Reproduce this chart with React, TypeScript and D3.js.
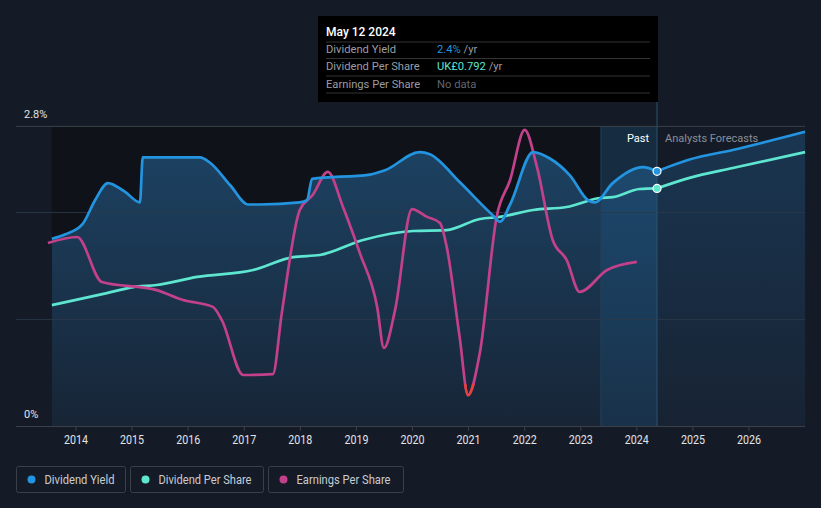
import React from "react";
import * as d3 from "d3";

// ---- data ----
const yieldDates = [2013.57, 2013.8, 2014.12, 2014.34, 2014.57, 2014.87, 2015.14, 2015.19, 2016.21, 2016.39, 2016.75, 2017.07, 2017.28, 2017.99, 2018.12, 2018.21, 2019.24, 2019.51, 2020.13, 2020.31, 2020.84, 2021.43, 2021.56, 2021.74, 2022.15, 2022.45, 2022.81, 2023.13, 2023.25, 2023.57, 2024.11, 2024.36];
const yieldValues = [1.75, 1.79, 1.89, 2.11, 2.27, 2.19, 2.09, 2.51, 2.51, 2.46, 2.25, 2.07, 2.07, 2.09, 2.11, 2.31, 2.35, 2.39, 2.56, 2.54, 2.28, 1.97, 1.91, 2.07, 2.56, 2.5, 2.34, 2.11, 2.09, 2.27, 2.42, 2.38];
const yieldForecastDates = [2024.36, 2024.94, 2025.71, 2027.0];
const yieldForecastValues = [2.38, 2.49, 2.58, 2.75];

const dpsDates = [2013.57, 2014.55, 2015.02, 2015.44, 2016.16, 2017.16, 2017.87, 2018.35, 2019.12, 2020.01, 2020.61, 2021.2, 2021.56, 2022.15, 2022.75, 2023.34, 2023.57, 2024.05, 2024.36];
const dpsValues = [0.403, 0.443, 0.463, 0.47, 0.497, 0.52, 0.563, 0.57, 0.62, 0.65, 0.653, 0.69, 0.697, 0.72, 0.73, 0.76, 0.763, 0.79, 0.792];
const dpsForecastDates = [2024.36, 2024.94, 2025.71, 2027.0];
const dpsForecastValues = [0.792, 0.827, 0.86, 0.913];

const epsDates = [2013.5, 2014.02, 2014.46, 2015.44, 2015.91, 2016.44, 2016.6, 2016.98, 2017.51, 2017.67, 2017.99, 2018.22, 2018.49, 2018.76, 2019.06, 2019.37, 2019.49, 2019.69, 2019.99, 2020.26, 2020.49, 2020.61, 2020.84, 2020.99, 2021.2, 2021.5, 2021.74, 2022.0, 2022.22, 2022.5, 2022.75, 2022.98, 2023.47, 2024.0];
const epsValues = [0.47, 0.49, 0.34, 0.313, 0.28, 0.257, 0.213, 0.03, 0.033, 0.237, 0.58, 0.63, 0.707, 0.59, 0.437, 0.257, 0.12, 0.247, 0.583, 0.557, 0.537, 0.457, 0.157, -0.037, 0.103, 0.557, 0.68, 0.847, 0.723, 0.48, 0.413, 0.307, 0.38, 0.407];

const yearTicks = [2014, 2015, 2016, 2017, 2018, 2019, 2020, 2021, 2022, 2023, 2024, 2025, 2026];
const yieldGrid = [1, 2];
const legendItems = ["Dividend Yield", "Dividend Per Share", "Earnings Per Share"];

const COL_YIELD = "#2394df";
const COL_DPS = "#5ee6d0";
const COL_EPS = "#c2418a";
const COL_NEG = "#e8403a";

const W = 821;
const H = 508;

export default function App() {
  const x = d3.scaleLinear().domain([2014, 2026]).range([76, 749]);
  const yY = d3.scaleLinear().domain([0, 2.8]).range([426, 126.4]);
  const yD = d3.scaleLinear().domain([0, 1.0]).range([426, 126]);
  const yE = d3.scaleLinear().domain([-0.14, 0.86]).range([426, 126]);

  const xStart = x(yieldDates[0]);
  const xEnd = x(2027.0);
  const xNow = x(2024.36);
  const xBand = x(2023.36);

  type P = [number, number];
  const yPts: P[] = yieldDates.map((d, i) => [d, yieldValues[i]]);
  const yfPts: P[] = yieldForecastDates.map((d, i) => [d, yieldForecastValues[i]]);
  const dPts: P[] = dpsDates.map((d, i) => [d, dpsValues[i]]);
  const dfPts: P[] = dpsForecastDates.map((d, i) => [d, dpsForecastValues[i]]);
  const ePts: P[] = epsDates.map((d, i) => [d, epsValues[i]]);

  const lineY = d3.line<P>().x((p) => x(p[0])).y((p) => yY(p[1])).curve(d3.curveMonotoneX);
  const lineD = d3.line<P>().x((p) => x(p[0])).y((p) => yD(p[1])).curve(d3.curveMonotoneX);
  const lineE = d3.line<P>().x((p) => x(p[0])).y((p) => yE(p[1])).curve(d3.curveMonotoneX);
  const areaY = d3.area<P>().x((p) => x(p[0])).y0(yY(0)).y1((p) => yY(p[1])).curve(d3.curveMonotoneX);

  const allYield = [...yPts, ...yfPts.slice(1)];

  const font = "Roboto, 'Noto Sans', sans-serif";

  const legendBoxes = [
    { x: 16.5, w: 109, col: COL_YIELD, len: 70 },
    { x: 130.5, w: 133, col: COL_DPS, len: 93 },
    { x: 268.5, w: 135, col: COL_EPS, len: 94 },
  ];

  return (
    <div style={{ position: "absolute", left: 0, top: 0, width: W, height: H }}>
      <svg width={W} height={H} style={{ display: "block" }} fontFamily={font}>
        <defs>
          <linearGradient id="areaGrad" gradientUnits="userSpaceOnUse" x1={0} y1={126} x2={0} y2={426}>
            <stop offset="0%" stopColor="#1d4466" />
            <stop offset="100%" stopColor="#172536" />
          </linearGradient>
          <linearGradient id="fcGrad" gradientUnits="userSpaceOnUse" x1={0} y1={126} x2={0} y2={426}>
            <stop offset="0%" stopColor="#1a3652" />
            <stop offset="100%" stopColor="#172333" />
          </linearGradient>
          <clipPath id="pastClip">
            <rect x={0} y={0} width={xNow} height={H} />
          </clipPath>
          <clipPath id="fcClip">
            <rect x={xNow} y={0} width={W - xNow} height={H} />
          </clipPath>
          <clipPath id="negClip">
            <rect x={0} y={yE(0)} width={W} height={H - yE(0)} />
          </clipPath>
        </defs>

        <rect x={0} y={0} width={W} height={H} fill="#151b26" />
        {/* past darker background */}
        <rect x={xStart} y={126} width={xBand - xStart} height={300} fill="#0f1319" />
        <rect x={xBand} y={126} width={xNow - xBand} height={300} fill="#14202d" />

        {/* areas */}
        <path d={areaY(allYield) || ""} fill="url(#areaGrad)" clipPath="url(#pastClip)" />
        <path d={areaY(allYield) || ""} fill="url(#fcGrad)" clipPath="url(#fcClip)" />
        {/* highlight band */}
        <rect x={xBand} y={126} width={xNow - xBand} height={300} fill="#2a8ad8" opacity={0.12} />
        <line x1={xBand} x2={xBand} y1={126} y2={426} stroke="#24405a" strokeWidth={1} />

        {/* gridlines */}
        <line x1={16} x2={xEnd} y1={yY(2.8)} y2={yY(2.8)} stroke="#3b4049" strokeWidth={1} />
        {yieldGrid.map((g) => (
          <line key={g} x1={16} x2={xEnd} y1={Math.round(yY(g)) + 0.5} y2={Math.round(yY(g)) + 0.5} stroke="#2a3a4a" strokeOpacity={0.8} strokeWidth={1} />
        ))}

        {/* hover line */}
        <line x1={xNow} x2={xNow} y1={101} y2={426} stroke="#2e5170" strokeWidth={1} />

        {/* lines */}
        <path d={lineD(dPts) || ""} fill="none" stroke={COL_DPS} strokeWidth={2.7} />
        <path d={lineD(dfPts) || ""} fill="none" stroke={COL_DPS} strokeWidth={2.7} />
        <path d={lineE(ePts) || ""} fill="none" stroke={COL_EPS} strokeWidth={2.7} />
        <path d={lineE(ePts) || ""} fill="none" stroke={COL_NEG} strokeWidth={2.7} clipPath="url(#negClip)" />
        <path d={lineY(yPts) || ""} fill="none" stroke={COL_YIELD} strokeWidth={2.7} />
        <path d={lineY(yfPts) || ""} fill="none" stroke={COL_YIELD} strokeWidth={2.7} />

        {/* axis */}
        <line x1={16} x2={xEnd} y1={426.5} y2={426.5} stroke="#3b4049" strokeWidth={1} />
        {yearTicks.map((t) => (
          <g key={t}>
            <line x1={x(t)} x2={x(t)} y1={426} y2={431} stroke="#3b4049" />
            <text x={x(t)} y={444} textAnchor="middle" fill="#e2e4e8" fontSize={12.5} textLength={24} lengthAdjust="spacingAndGlyphs">{t}</text>
          </g>
        ))}

        {/* y labels */}
        <text x={24} y={118} fill="#e2e4e8" fontSize={11}>2.8%</text>
        <text x={24} y={418} fill="#e2e4e8" fontSize={11}>0%</text>

        {/* past / forecast labels */}
        <text x={xNow - 8} y={142} textAnchor="end" fill="#ffffff" fontSize={11}>Past</text>
        <text x={xNow + 8} y={142} fill="#8a8f98" fontSize={11}>Analysts Forecasts</text>

        {/* dots */}
        <circle cx={xNow} cy={yY(2.38)} r={4} fill={COL_YIELD} stroke="#ffffff" strokeWidth={1.2} />
        <circle cx={xNow} cy={yD(0.792)} r={4} fill={COL_DPS} stroke="#ffffff" strokeWidth={1.2} />

        {/* tooltip */}
        <rect x={318} y={16} width={340} height={86} fill="#000000" />
        <text x={326} y={36} fill="#ffffff" fontSize={12} fontWeight={500}>May 12 2024</text>
        {[42, 58.5, 76, 93].map((ly) => (
          <line key={ly} x1={326} x2={650} y1={ly} y2={ly} stroke="#333" strokeWidth={1} />
        ))}
        <text x={326} y={53} fill="#9a9da3" fontSize={11.2}>Dividend Yield</text>
        <text x={326} y={70} fill="#9a9da3" fontSize={11.2}>Dividend Per Share</text>
        <text x={326} y={88} fill="#9a9da3" fontSize={11.2}>Earnings Per Share</text>
        <text x={437} y={53} fontSize={11.2}>
          <tspan fill={COL_YIELD}>2.4%</tspan>
          <tspan fill="#9a9da3"> /yr</tspan>
        </text>
        <text x={437} y={70} fontSize={11.2}>
          <tspan fill={COL_DPS}>UK£0.792</tspan>
          <tspan fill="#9a9da3"> /yr</tspan>
        </text>
        <text x={437} y={88} fontSize={11.2} fill="#62656b">No data</text>

        {/* legend */}
        {legendItems.map((name, i) => {
          const b = legendBoxes[i];
          return (
            <g key={name}>
              <rect x={b.x} y={466.5} width={b.w} height={26} rx={2} fill="none" stroke="#3a3f48" />
              <circle cx={b.x + 15} cy={479.5} r={4} fill={b.col} />
              <text x={b.x + 28} y={484} fill="#c8ccd2" fontSize={12.5} textLength={b.len} lengthAdjust="spacingAndGlyphs">{name}</text>
            </g>
          );
        })}
      </svg>
    </div>
  );
}
